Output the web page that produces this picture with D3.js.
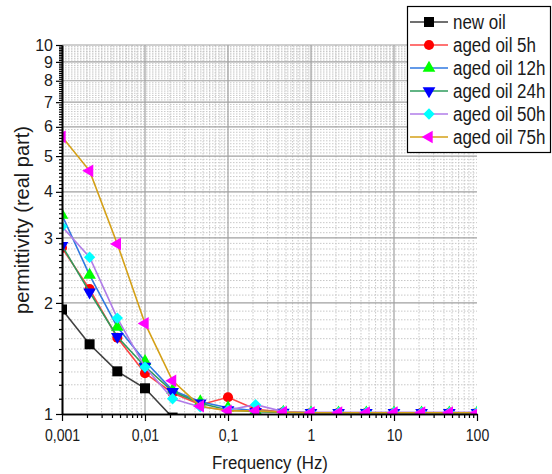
<!DOCTYPE html>
<html><head><meta charset="utf-8">
<script src="https://cdn.jsdelivr.net/npm/d3@7/dist/d3.min.js"></script>
<style>
html,body{margin:0;padding:0;background:#fff;}
text{font-family:"Liberation Sans",Arial,sans-serif;fill:#1a1a1a;}
</style></head>
<body><svg id="c" width="552" height="474"></svg>
<script>
const freq = [0.001, 0.00215, 0.00464, 0.01, 0.0215, 0.0464, 0.1, 0.215, 0.464, 1, 2.15, 4.64, 10, 21.5, 46.4, 100];
const newOil  = [1.92, 1.545, 1.305, 1.174, 0.978, 0.96, 0.95, 0.95, 0.95, 0.95, 0.95, 0.95, 0.95, 0.95, 0.95, 0.95];
const aged5   = [2.82, 2.18, 1.61, 1.29, 1.14, 1.06, 1.11, 1.03, 1.012, 1.008, 1.008, 1.008, 1.008, 1.008, 1.008, 1.008];
const aged12  = [3.46, 2.38, 1.72, 1.39, 1.16, 1.08, 1.04, 1.02, 1.012, 1.008, 1.008, 1.008, 1.008, 1.008, 1.008, 1.008];
const aged24  = [2.86, 2.14, 1.62, 1.345, 1.15, 1.07, 1.025, 1.015, 1.01, 1.008, 1.008, 1.008, 1.008, 1.008, 1.008, 1.008];
const aged50  = [3.22, 2.66, 1.82, 1.34, 1.10, 1.045, 1.025, 1.06, 1.015, 1.01, 1.01, 1.01, 1.01, 1.01, 1.01, 1.01];
const aged75  = [5.64, 4.56, 2.89, 1.76, 1.23, 1.05, 1.02, 1.02, 1.012, 1.008, 1.008, 1.008, 1.008, 1.008, 1.008, 1.008];
const seriesNames = ["new oil", "aged oil 5h", "aged oil 12h", "aged oil 24h", "aged oil 50h", "aged oil 75h"];
const xTickLabels = ["0,001", "0,01", "0,1", "1", "10", "100"];
const yTickLabels = ["1", "2", "3", "4", "5", "6", "7", "8", "9", "10"];

const seriesValues = [newOil, aged5, aged12, aged24, aged50, aged75];
const lineColors = ["#404040", "#ff4444", "#2f78e0", "#2e9b5c", "#b07ce8", "#d4a017"];
const markColors = ["#000000", "#ff0000", "#00ff00", "#0000ff", "#00ffff", "#ff00ff"];
const shapes = [
  {t: d3.symbolSquare, s: 100, r: 0},
  {t: d3.symbolCircle, s: 80, r: 0},
  {t: d3.symbolTriangle, s: 70, r: 0},
  {t: d3.symbolTriangle, s: 70, r: 180},
  {t: d3.symbolSquare, s: 64, r: 45},
  {t: d3.symbolTriangle, s: 70, r: -90}
];

const L = 62, R = 477, T = 45, B = 414;
const x = d3.scaleLog().domain([0.001, 100]).range([L, R]);
const y = d3.scaleLog().domain([1, 10]).range([B, T]);
const svg = d3.select("#c");

// grid
const xMajor = [0.001, 0.01, 0.1, 1, 10, 100];
const xMinor = [];
[0.001, 0.01, 0.1, 1, 10].forEach(d => { for (let k = 2; k <= 9; k++) xMinor.push(d * k); });
const yMajor = d3.range(1, 11);
const yMinor = [];
for (let i = 11; i < 100; i++) if (i % 10 !== 0) yMinor.push(i / 10);

const grid = svg.append("g");
grid.selectAll(".ymin").data(yMinor).join("line")
  .attr("x1", L).attr("x2", R).attr("y1", d => y(d)).attr("y2", d => y(d))
  .attr("stroke", "#c8c8c8").attr("stroke-width", 1).attr("stroke-dasharray", "1.5,1.5");
grid.selectAll(".xmin").data(xMinor).join("line")
  .attr("y1", T).attr("y2", B).attr("x1", d => x(d)).attr("x2", d => x(d))
  .attr("stroke", "#c8c8c8").attr("stroke-width", 1).attr("stroke-dasharray", "1.5,1.5");
grid.selectAll(".ymaj").data(yMajor.slice(1)).join("line")
  .attr("x1", L).attr("x2", R).attr("y1", d => y(d)).attr("y2", d => y(d))
  .attr("stroke", "#a0a0a0").attr("stroke-width", 1.2);
grid.selectAll(".xmaj").data(xMajor.slice(1, 5)).join("line")
  .attr("y1", T).attr("y2", B).attr("x1", d => x(d)).attr("x2", d => x(d))
  .attr("stroke", "#a0a0a0").attr("stroke-width", 1.2);

// clip
svg.append("clipPath").attr("id", "clip").append("rect")
  .attr("x", L).attr("y", T).attr("width", R - L).attr("height", B - T);

const plot = svg.append("g").attr("clip-path", "url(#clip)");
const line = d3.line().x((d, i) => x(freq[i])).y(d => y(d));
seriesValues.forEach((vals, si) => {
  const g = plot.append("g");
  g.append("path").datum(vals).attr("d", line)
    .attr("fill", "none").attr("stroke", lineColors[si]).attr("stroke-width", 1.6);
  const sym = d3.symbol().type(shapes[si].t).size(shapes[si].s);
  g.selectAll("path.m").data(vals).join("path").attr("class", "m")
    .attr("d", sym)
    .attr("transform", (d, i) => `translate(${x(freq[i])},${y(d)}) rotate(${shapes[si].r})`)
    .attr("fill", markColors[si]);
});

// axes
const ax = svg.append("g");
const yAxis = d3.axisLeft(y).tickValues(yMajor).tickSize(6).tickSizeOuter(0)
  .tickFormat((d, i) => yTickLabels[i]);
const yAxisMinor = d3.axisLeft(y).tickValues(yMinor).tickSize(3).tickSizeOuter(0).tickFormat("");
const xAxis = d3.axisBottom(x).tickValues(xMajor).tickSize(7).tickSizeOuter(0)
  .tickFormat((d, i) => xTickLabels[i]);
const xAxisMinor = d3.axisBottom(x).tickValues(xMinor).tickSize(4).tickSizeOuter(0).tickFormat("");

const gy = ax.append("g").attr("transform", `translate(${L},0)`).call(yAxis);
const gym = ax.append("g").attr("transform", `translate(${L},0)`).call(yAxisMinor);
const gx = ax.append("g").attr("transform", `translate(0,${B})`).call(xAxis);
const gxm = ax.append("g").attr("transform", `translate(0,${B})`).call(xAxisMinor);
[gy, gym, gx, gxm].forEach(g => {
  g.selectAll(".domain").attr("stroke", "#000").attr("stroke-width", 1.6);
  g.selectAll(".tick line").attr("stroke", "#000").attr("stroke-width", 1.2);
});
gy.selectAll(".tick text").attr("x", -9).attr("font-size", 16).attr("fill", "#1a1a1a")
  .attr("font-family", "Liberation Sans, Arial, sans-serif");
gx.selectAll(".tick text").attr("y", 0).attr("dy", 0).attr("font-size", 16).attr("fill", "#1a1a1a")
  .attr("font-family", "Liberation Sans, Arial, sans-serif")
  .attr("transform", "translate(0,27) scale(0.88,1)");

// axis titles
svg.append("text").attr("transform", "translate(270,469) scale(0.885,1)")
  .attr("text-anchor", "middle").attr("font-size", 19).text("Frequency (Hz)");
svg.append("text").attr("transform", "translate(29,220) rotate(-90)")
  .attr("text-anchor", "middle").attr("font-size", 20).text("permittivity (real part)");

// legend
const lg = svg.append("g");
lg.append("rect").attr("x", 407.5).attr("y", 6.5).attr("width", 143).attr("height", 146)
  .attr("fill", "#fff").attr("stroke", "#000").attr("stroke-width", 1.2);
seriesNames.forEach((name, si) => {
  const cy = 22 + si * 23;
  lg.append("line").attr("x1", 410).attr("x2", 448).attr("y1", cy).attr("y2", cy)
    .attr("stroke", lineColors[si]).attr("stroke-width", 1.6);
  lg.append("path").attr("d", d3.symbol().type(shapes[si].t).size(shapes[si].s)())
    .attr("transform", `translate(429,${cy}) rotate(${shapes[si].r})`).attr("fill", markColors[si]);
  lg.append("text").attr("transform", `translate(453,${cy + 6.5}) scale(0.87,1)`)
    .attr("font-size", 19.5).text(name);
});
</script></body></html>
